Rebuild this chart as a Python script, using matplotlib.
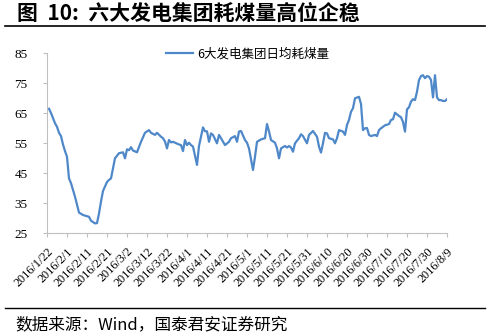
import numpy as np
import pandas as pd
import matplotlib
matplotlib.use('Agg')
import matplotlib.pyplot as plt
from matplotlib.lines import Line2D

plt.rcParams['font.family'] = ['Noto Sans CJK SC', 'DejaVu Sans']

# days after 2016-01-22 and daily coal use (10k tonnes)
day_offsets = [1, 2, 4, 5, 6, 7, 8, 9, 10, 11, 12, 14, 16, 18, 21, 22, 24, 25,
               26, 27, 28, 30, 31, 32, 34, 36, 38, 39, 40, 41, 42, 43, 45, 47,
               49, 51, 52, 54, 55, 57, 58, 59, 60, 61, 62, 63, 65, 66, 67, 68,
               69, 70, 71, 72, 73, 75, 76, 78, 79, 80, 81, 82, 83, 85, 86, 87,
               89, 91, 92, 94, 95, 96, 97, 99, 100, 101, 103, 104, 105, 107,
               109, 110, 111, 112, 114, 115, 116, 117, 119, 120, 121, 122, 123,
               124, 126, 127, 128, 130, 131, 133, 135, 136, 137, 138, 139, 140,
               141, 143, 144, 145, 146, 148, 149, 150, 151, 152, 153, 154, 156,
               157, 158, 159, 160, 161, 162, 164, 165, 166, 167, 168, 169, 171,
               172, 173, 174, 176, 177, 178, 179, 180, 181, 182, 183, 184, 185,
               186, 187, 188, 189, 190, 191, 192, 193, 194, 195, 196, 197, 198,
               199, 200]
coal_use = [66.4, 65.0, 61.6, 60.4, 58.4, 57.3, 54.5, 52.3, 50.4, 43.2, 41.6,
            37.1, 31.8, 31.0, 30.4, 29.1, 28.2, 28.3, 31.5, 35.5, 39.0, 42.0,
            42.7, 43.2, 49.9, 51.6, 51.9, 49.9, 52.9, 52.6, 53.6, 52.5, 51.9,
            55.4, 58.4, 59.3, 58.4, 57.7, 58.4, 57.1, 56.6, 55.5, 53.2, 56.0,
            55.2, 55.4, 54.8, 54.5, 54.3, 52.3, 56.0, 54.3, 55.1, 54.3, 53.8,
            47.7, 54.0, 60.2, 58.9, 58.9, 55.4, 58.2, 57.7, 54.9, 57.7, 56.6,
            54.3, 55.4, 56.6, 57.3, 55.4, 58.8, 59.0, 56.0, 55.1, 53.2, 46.0,
            50.4, 55.4, 56.2, 56.6, 61.3, 58.9, 56.0, 55.1, 53.2, 49.9, 53.2,
            54.0, 53.5, 54.0, 53.5, 52.1, 54.9, 56.6, 57.9, 57.3, 54.9, 57.7,
            59.0, 57.1, 53.8, 51.8, 54.9, 58.4, 58.2, 56.6, 56.2, 54.9, 56.6,
            59.3, 58.8, 57.7, 61.0, 62.7, 65.4, 66.6, 69.9, 70.4, 68.0, 59.3,
            59.9, 60.0, 57.7, 57.3, 57.7, 57.3, 59.3, 59.9, 60.4, 60.9, 61.3,
            62.7, 62.9, 65.1, 64.0, 63.6, 62.0, 58.8, 66.2, 66.9, 68.8, 69.6,
            69.3, 72.1, 76.0, 77.3, 77.6, 76.6, 77.3, 77.1, 76.0, 70.2, 77.6,
            70.2, 69.3, 69.3, 69.0, 69.0, 69.6]
y_ticks = [25, 35, 45, 55, 65, 75, 85]

start = pd.Timestamp('2016-01-22')
dates = start + pd.to_timedelta(day_offsets, unit='D')
tick_dates = pd.date_range(start, periods=21, freq='10D')
tick_labels = ['%d/%d/%d' % (d.year, d.month, d.day) for d in tick_dates]

fig = plt.figure(figsize=(4.89, 3.35), dpi=100)
ax = fig.add_axes([47 / 489, 1 - 233 / 335, 400 / 489, 180 / 335])

line, = ax.plot(dates, coal_use, color='#4f88c9', lw=1.6,
                solid_joinstyle='round')

ax.set_xlim(tick_dates[0], tick_dates[-1])
ax.set_ylim(25, 85)
ax.set_yticks(y_ticks)
ax.set_yticklabels([str(v) for v in y_ticks], family='Liberation Serif',
                   fontsize=9.5)
ax.set_xticks(tick_dates)
ax.set_xticklabels(tick_labels, family='Liberation Serif', fontsize=8.8,
                   rotation=45, ha='right', rotation_mode='anchor')
ax.tick_params(axis='x', length=3, color='#bfbfbf', pad=6)
ax.tick_params(axis='y', length=3, color='#bfbfbf', pad=11)
for side in ['top', 'right']:
    ax.spines[side].set_visible(False)
for side in ['left', 'bottom']:
    ax.spines[side].set_color('#bfbfbf')
    ax.spines[side].set_linewidth(0.8)

fig.legend([Line2D([], [], color='#4f88c9', lw=1.6)], ['6大发电集团日均耗煤量'],
           loc='center', bbox_to_anchor=(0.506, 0.838), frameon=False,
           fontsize=9, handlelength=2.2, handletextpad=0.3)

# title block and source line
fig.text(17 / 489, 1 - 13 / 335, '图  10:  六大发电集团耗煤量高位企稳',
         fontsize=15, fontweight='bold', va='center', ha='left')
fig.add_artist(Line2D([5 / 489, 485 / 489], [1 - 26 / 335, 1 - 26 / 335],
                      color='black', lw=1.2))
fig.add_artist(Line2D([5 / 489, 485 / 489], [1 - 308 / 335, 1 - 308 / 335],
                      color='black', lw=1.0))
fig.text(15 / 489, 1 - 325 / 335, '数据来源：Wind，国泰君安证券研究',
         fontsize=12, va='center', ha='left')

fig.savefig('out.png', dpi=100)
